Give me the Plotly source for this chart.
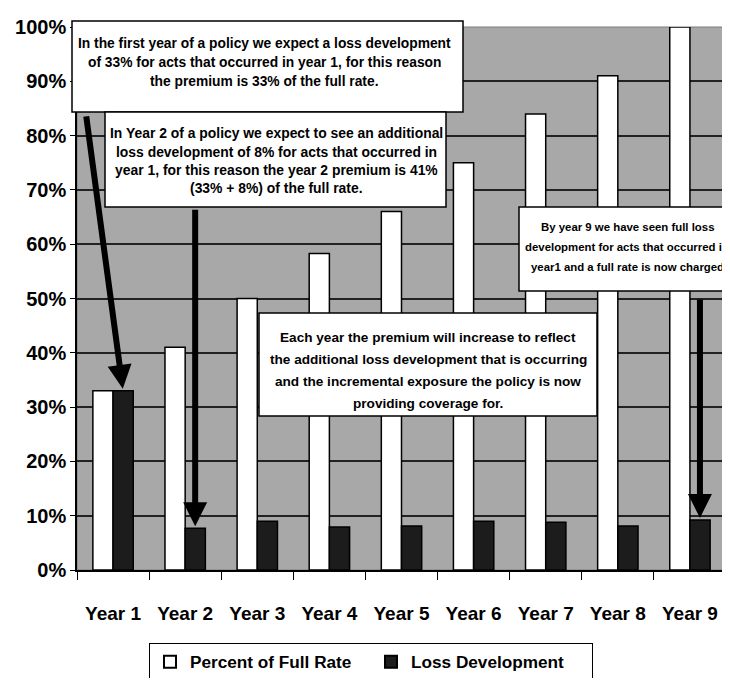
import plotly.graph_objects as go

# ---- data ----
years = ["Year 1", "Year 2", "Year 3", "Year 4", "Year 5", "Year 6", "Year 7", "Year 8", "Year 9"]
percent_full_rate = [0.33, 0.41, 0.50, 0.583, 0.66, 0.75, 0.84, 0.91, 1.00]
loss_development = [0.33, 0.077, 0.09, 0.079, 0.081, 0.09, 0.088, 0.081, 0.092]
series_names = ["Percent of Full Rate", "Loss Development"]

note1 = ["In the first year of a policy we expect a loss development",
         "of 33% for acts that occurred in year 1, for this reason",
         "the premium is 33% of the full rate."]
note2 = ["In Year 2 of a policy we expect to see an additional",
         "loss development of 8% for acts that occurred in",
         "year 1, for this reason the year 2 premium is 41%",
         "(33% + 8%) of the full rate."]
note3 = ["By year 9 we have seen full loss",
         "development for acts that occurred in",
         "year1 and a full rate is now charged"]
note4 = ["Each year the premium will increase to reflect",
         "the additional loss development that is occurring",
         "and the incremental exposure the policy is now",
         "providing coverage for."]

# ---- layout geometry (page has an 8px body margin) ----
OFF = 8
W, H = 722, 670
PL, PT, PW, PH = 77, 27, 649, 543          # plot area in page pixels
ML, MT = PL - OFF, PT - OFF
MR = W - ML - PW
MB = H - MT - PH


def px(x):
    return (x - PL) / PW


def py(y):
    return (PT + PH - y) / PH


FONT = "Liberation Sans, Arial, sans-serif"

fig = go.Figure()
fig.add_trace(go.Bar(x=years, y=percent_full_rate, name=series_names[0],
                     marker=dict(color="white", line=dict(color="black", width=1.5))))
fig.add_trace(go.Bar(x=years, y=loss_development, name=series_names[1],
                     marker=dict(color="#1c1c1c", line=dict(color="black", width=1.5))))

shapes = []
shapes.append(dict(type="rect", xref="paper", yref="paper", x0=0, x1=1, y0=0, y1=1,
                   line=dict(color="#7a7a7a", width=1), fillcolor="rgba(0,0,0,0)", layer="below"))

boxes = [
    (72, 463, 21, 112),
    (105, 446, 112, 207),
    (519, 729, 207, 291),
    (259, 597, 313, 416),
]
for x0, x1, y0, y1 in boxes:
    shapes.append(dict(type="rect", xref="paper", yref="paper",
                       x0=px(x0), x1=px(x1), y0=py(y0), y1=py(y1),
                       line=dict(color="black", width=1.5), fillcolor="white", layer="above"))

annotations = []
# (lines, center x, first line y, line spacing, font size) in page pixels
notes = [(note1, 264, 43, 19.5, 13.8),
         (note2, 276, 133, 18.5, 13.9),
         (note3, 627, 227, 20, 11.4),
         (note4, 428, 337, 22, 13.6)]
for lines, cx, y0, dy, fs in notes:
    for i, t in enumerate(lines):
        annotations.append(dict(text=t, xref="paper", yref="paper", x=px(cx), y=py(y0 + i * dy),
                                xanchor="center", yanchor="middle", showarrow=False,
                                font=dict(family=FONT, size=fs, color="black", weight="bold")))

arrow_style = dict(showarrow=True, text="", arrowhead=2, arrowsize=0.8, arrowwidth=6,
                   arrowcolor="black", xref="x", yref="y", axref="pixel", ayref="pixel",
                   xshift=10, standoff=2)
annotations.append(dict(x=years[0], y=loss_development[0], ax=-37, ay=-276, **arrow_style))
annotations.append(dict(x=years[1], y=loss_development[1], ax=0, ay=-320, **arrow_style))
annotations.append(dict(x=years[8], y=loss_development[8], ax=0, ay=-222, **arrow_style))

fig.update_layout(
    width=W, height=H,
    margin=dict(l=ML, r=MR, t=MT, b=MB, autoexpand=False),
    paper_bgcolor="white",
    plot_bgcolor="#a8a8a8",
    barmode="group",
    bargap=0.44,
    bargroupgap=0,
    font=dict(family=FONT, color="black", weight="bold"),
    shapes=shapes,
    annotations=annotations,
    legend=dict(orientation="h", x=px(371), y=py(643), xanchor="center", yanchor="top",
                bgcolor="white", bordercolor="black", borderwidth=1,
                font=dict(family=FONT, size=17.2, color="black", weight="bold"),
                entrywidth=176, itemsizing="constant"),
    showlegend=True,
)

fig.update_xaxes(showline=True, linecolor="black", linewidth=1.5,
                 ticks="outside", tickson="boundaries", ticklen=8, tickcolor="black",
                 tickangle=0, automargin=False,
                 tickfont=dict(family=FONT, size=19, color="black", weight="bold"),
                 ticklabelstandoff=25, showgrid=False)
fig.update_yaxes(range=[0, 1], dtick=0.1, tickformat=".0%",
                 showline=True, linecolor="black", linewidth=1.5,
                 ticks="outside", ticklen=5, tickcolor="black", automargin=False,
                 gridcolor="#222222", gridwidth=1.5, zeroline=False,
                 tickfont=dict(family=FONT, size=20, color="black", weight="bold"))

fig.write_html("out.html")
